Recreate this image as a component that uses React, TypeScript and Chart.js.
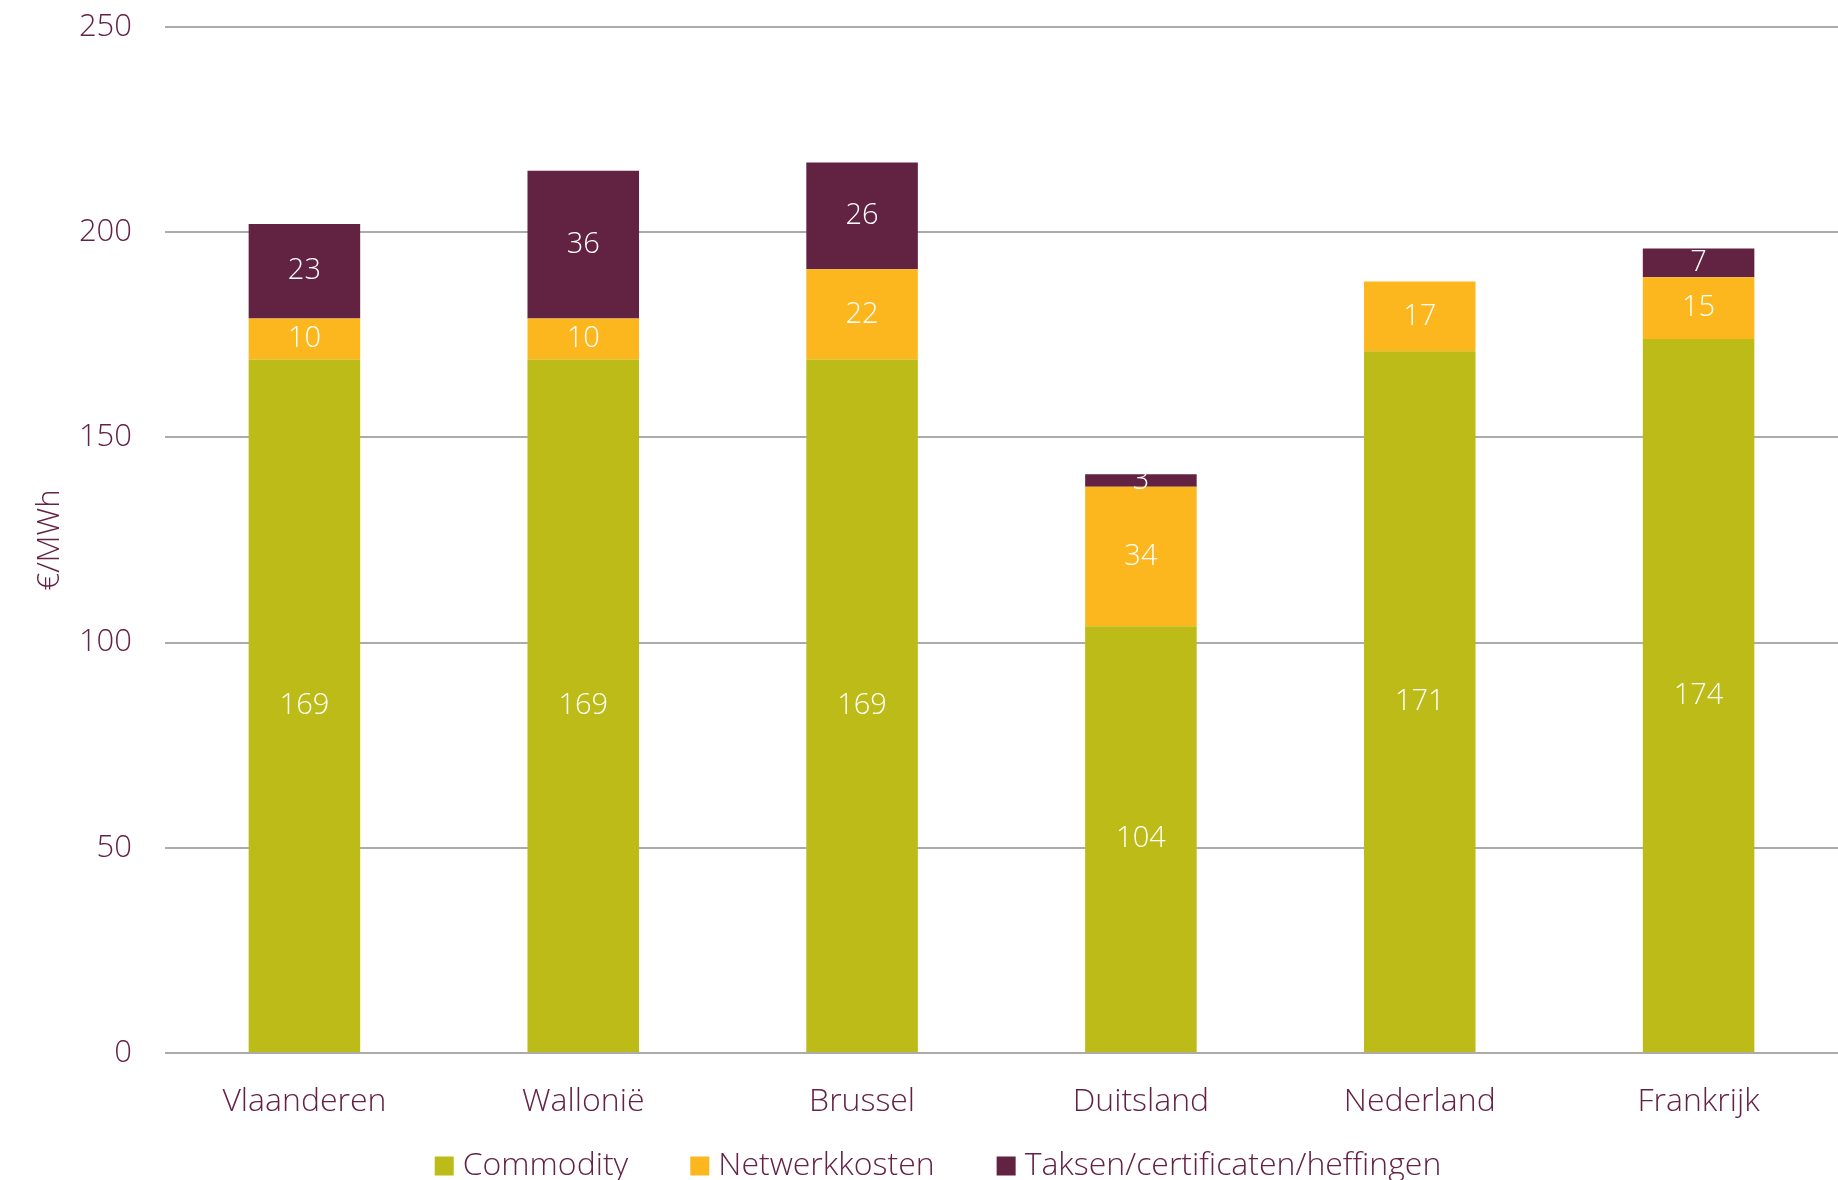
import React, { useEffect, useRef } from "react";
import { Chart, registerables } from "chart.js";

Chart.register(...registerables);

const categories = ["Vlaanderen", "Wallonië", "Brussel", "Duitsland", "Nederland", "Frankrijk"];
const seriesNames = ["Commodity", "Netwerkkosten", "Taksen/certificaten/heffingen"];
const commodity = [169, 169, 169, 104, 171, 174];
const netwerkkosten = [10, 10, 22, 34, 17, 15];
const taksen = [23, 36, 26, 3, 0, 7];
const yTicks = [0, 50, 100, 150, 200, 250];

const PURPLE = "#622242";
const GREEN = "#BCBB18";
const YELLOW = "#FDB71E";
const TEXT = "#642246";
const FONT = "'Open Sans', Lato, sans-serif";
const W = 300;

const valueLabels = {
  id: "valueLabels",
  afterDatasetsDraw(chart: any) {
    const ctx = chart.ctx;
    ctx.save();
    ctx.fillStyle = "#ffffff";
    ctx.font = `${W} 29px ${FONT}`;
    ctx.textAlign = "center";
    ctx.textBaseline = "middle";
    chart.data.datasets.forEach((ds: any, di: number) => {
      const meta = chart.getDatasetMeta(di);
      meta.data.forEach((bar: any, i: number) => {
        const v = ds.data[i];
        if (!v) return;
        const y = (bar.y + bar.base) / 2;
        ctx.fillText(String(v), bar.x, y);
      });
    });
    ctx.restore();
  },
};

const bottomLegend = {
  id: "bottomLegend",
  afterDraw(chart: any) {
    const ctx = chart.ctx;
    const box = 19;
    const gap = 9;
    const spacing = 62;
    const cx = 938;
    const cy = 1166;
    ctx.save();
    ctx.font = `${W} 32px ${FONT}`;
    ctx.textBaseline = "middle";
    ctx.textAlign = "left";
    const items = chart.data.datasets.map((ds: any) => ({
      text: ds.label,
      color: ds.backgroundColor,
      w: ctx.measureText(ds.label).width,
    }));
    const total = items.reduce((s: number, it: any) => s + box + gap + it.w, 0) + spacing * (items.length - 1);
    let x = cx - total / 2;
    items.forEach((it: any) => {
      ctx.fillStyle = it.color;
      ctx.fillRect(x, cy - box / 2, box, box);
      ctx.fillStyle = TEXT;
      ctx.fillText(it.text, x + box + gap, cy);
      x += box + gap + it.w + spacing;
    });
    ctx.restore();
  },
};

export default function App() {
  const ref = useRef<HTMLCanvasElement>(null);
  useEffect(() => {
    document.body.style.margin = "0";
    const chart = new Chart(ref.current as HTMLCanvasElement, {
      type: "bar",
      data: {
        labels: categories,
        datasets: [
          { label: seriesNames[0], data: commodity, backgroundColor: GREEN },
          { label: seriesNames[1], data: netwerkkosten, backgroundColor: YELLOW },
          { label: seriesNames[2], data: taksen, backgroundColor: PURPLE },
        ],
      },
      options: {
        responsive: false,
        animation: false,
        devicePixelRatio: 1,
        layout: { padding: { top: 27, bottom: 0, left: 0, right: 0 } },
        datasets: { bar: { categoryPercentage: 0.8, barPercentage: 0.5 } },
        plugins: {
          legend: { display: false },
          tooltip: { enabled: false },
        },
        scales: {
          x: {
            stacked: true,
            grid: { display: false, drawTicks: false },
            border: { display: false },
            ticks: { font: { family: FONT, size: 32, weight: W as any }, color: TEXT, padding: 30 },
            afterFit: (s: any) => { s.height = 127; },
          },
          y: {
            stacked: true,
            min: 0,
            max: 250,
            afterBuildTicks: (s: any) => { s.ticks = yTicks.map((v) => ({ value: v })); },
            grid: { color: "#ababab", lineWidth: 2, drawTicks: false },
            border: { display: false },
            ticks: { font: { family: FONT, size: 31, weight: W as any }, color: TEXT, padding: 33 },
            title: {
              display: true,
              text: "€/MWh",
              font: { family: FONT, size: 31, weight: W as any },
              color: TEXT,
              padding: { top: 32, bottom: 0 },
            },
            afterFit: (s: any) => {
              s.width = 165;
              s.paddingTop = 0;
              s.paddingBottom = 0;
            },
          },
        },
      },
      plugins: [valueLabels, bottomLegend],
    });
    return () => chart.destroy();
  }, []);
  return (
    <div style={{ position: "fixed", left: 0, top: 0, width: 1838, height: 1180, background: "#fff" }}>
      <canvas ref={ref} width={1838} height={1180} />
    </div>
  );
}
